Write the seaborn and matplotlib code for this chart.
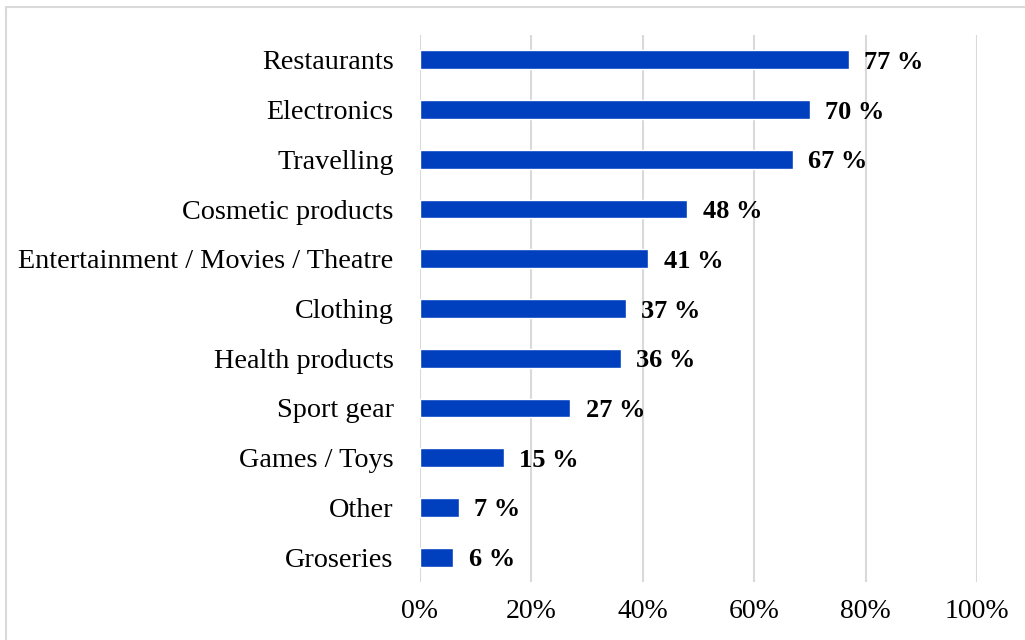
import matplotlib
matplotlib.use("Agg")
import matplotlib.pyplot as plt
import matplotlib.patches as mpatches
from matplotlib.ticker import PercentFormatter
import seaborn as sns
import pandas as pd

categories = ["Restaurants", "Electronics", "Travelling", "Cosmetic products",
              "Entertainment / Movies / Theatre", "Clothing", "Health products",
              "Sport gear", "Games / Toys", "Other", "Groseries"]
values = [77, 70, 67, 48, 41, 37, 36, 27, 15, 7, 6]
x_ticks = [0, 20, 40, 60, 80, 100]

sns.set_theme(style="white")
plt.rcParams['font.family'] = ['Liberation Serif', 'DejaVu Serif']

df = pd.DataFrame({"category": categories, "value": values})

fig = plt.figure(figsize=(10.25, 6.4), dpi=100)
ax = fig.add_axes([420/1025, 1 - 582/640, 557/1025, 547/640])

sns.barplot(data=df, y="category", x="value", orient="h", color="#0040BF",
            width=0.38, saturation=1, ax=ax, zorder=3)

ax.set_xlim(0, 100)
ax.set_ylim(len(categories) - 0.5, -0.5)
ax.set_xticks(x_ticks)
ax.xaxis.set_major_formatter(PercentFormatter(decimals=0))
ax.set_xlabel("")
ax.set_ylabel("")
ax.grid(axis="x", color="#d9d9d9", linewidth=1.5, zorder=0)
ax.grid(axis="y", visible=False)
for s in ax.spines.values():
    s.set_visible(False)
ax.tick_params(axis="y", length=0, pad=19, labelsize=20.3, labelcolor="#000000")
ax.tick_params(axis="x", length=0, pad=12, labelsize=20, labelcolor="#000000")

for i, v in enumerate(values):
    ax.annotate(f"{v} %", xy=(v, i), xytext=(11, 0), textcoords="offset points",
                ha="left", va="center_baseline", fontsize=19,
                fontweight="bold", color="#000000")

frame = mpatches.Rectangle((6/1025, -0.1), 1.2, 1 - 7/640 + 0.1,
                           transform=fig.transFigure, fill=False,
                           edgecolor="#d9d9d9", linewidth=1.5)
fig.patches.append(frame)

fig.savefig("out.png", dpi=100, facecolor="white")
